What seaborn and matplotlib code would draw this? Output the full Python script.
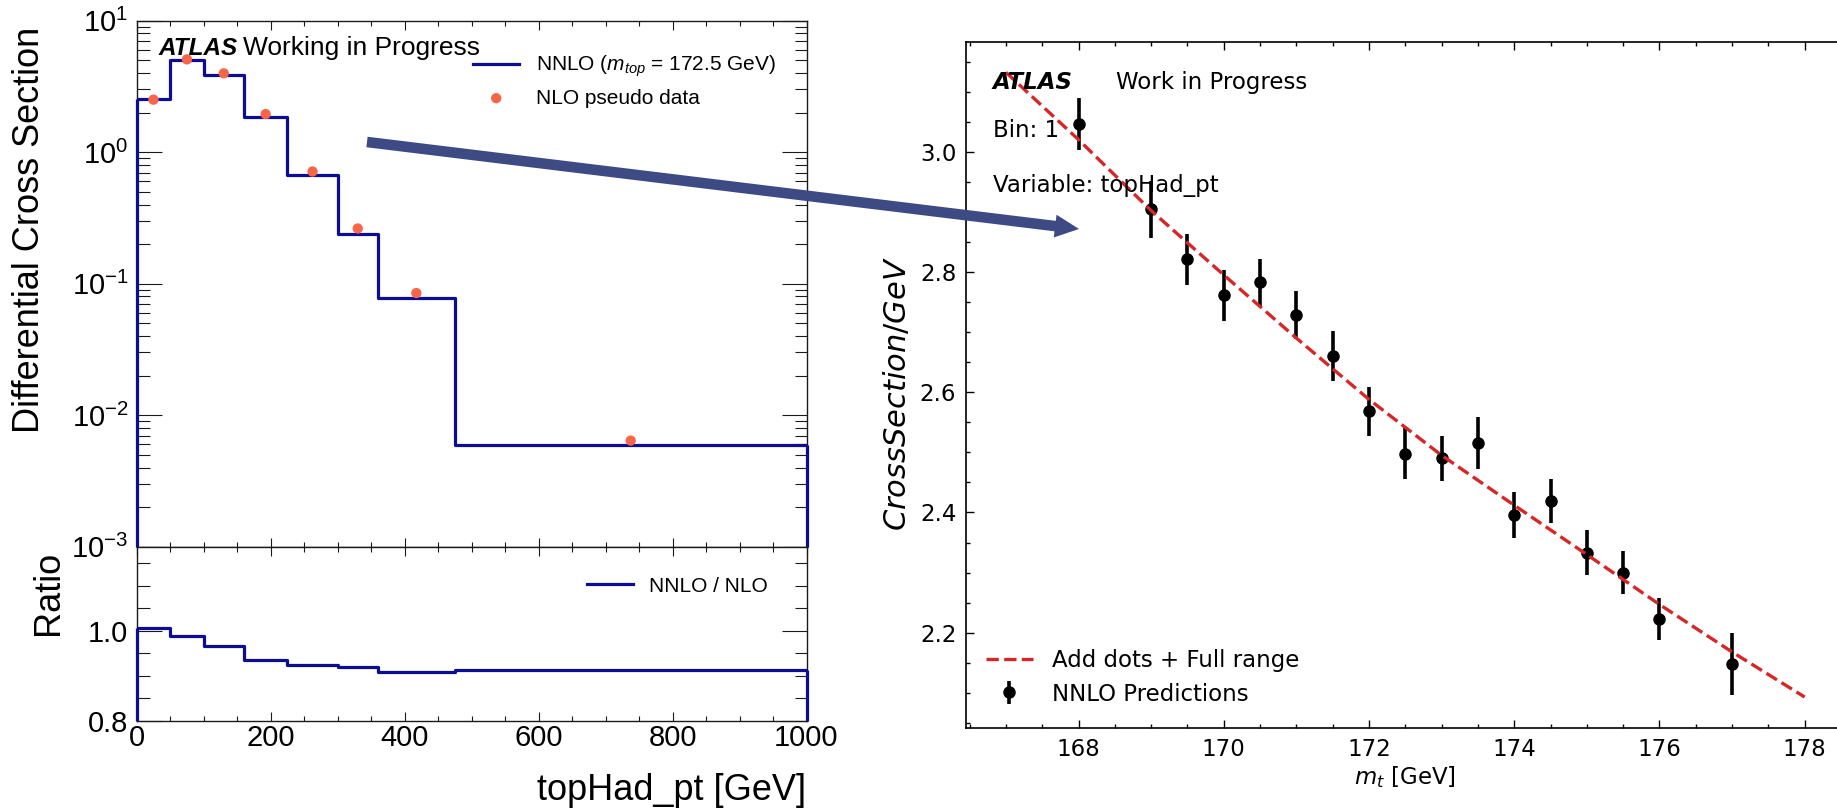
import numpy as np
import matplotlib
matplotlib.use("Agg")
import matplotlib.pyplot as plt
import seaborn as sns
from matplotlib.ticker import MultipleLocator, NullFormatter, LogLocator, FormatStrFormatter
from matplotlib.patches import FancyArrowPatch

# ---------------- data: differential cross section vs topHad_pt ----------------
pt_edges = [0, 50, 100, 160, 225, 300, 360, 475, 1000]
nnlo_xsec = [2.56, 5.03, 3.86, 1.85, 0.676, 0.240, 0.0783, 0.00594]
nlo_pt = [25, 75, 130, 192.5, 262.5, 330, 417.5, 737.5]
nlo_xsec = [2.51, 5.08, 3.98, 1.95, 0.713, 0.263, 0.0849, 0.00641]
ratio_nnlo_nlo = [1.007, 0.989, 0.966, 0.934, 0.925, 0.920, 0.908, 0.912]

# ---------------- data: bin-1 cross section vs top mass ----------------
mt_points = [168, 169, 169.5, 170, 170.5, 171, 171.5, 172, 172.5, 173,
             173.5, 174, 174.5, 175, 175.5, 176, 177]
xsec_points = [3.046, 2.904, 2.821, 2.761, 2.783, 2.728, 2.660, 2.568, 2.498,
               2.490, 2.516, 2.396, 2.419, 2.333, 2.300, 2.223, 2.148]
xsec_errors = [0.043, 0.047, 0.042, 0.043, 0.039, 0.040, 0.041, 0.040, 0.042,
               0.038, 0.043, 0.038, 0.036, 0.037, 0.036, 0.035, 0.051]
fit_mt = [167, 168, 169, 170, 171, 172, 173, 174, 175, 176, 177, 178]
fit_xsec = [3.132, 3.020, 2.902, 2.795, 2.690, 2.588, 2.495, 2.412, 2.330,
            2.247, 2.168, 2.093]

# ---------------- style ----------------
plt.rcParams["font.family"] = ["Liberation Sans", "DejaVu Sans"]
plt.rcParams["mathtext.fontset"] = "custom"
plt.rcParams["mathtext.rm"] = "Liberation Sans"
plt.rcParams["mathtext.it"] = "Liberation Sans:italic"
plt.rcParams["mathtext.bf"] = "Liberation Sans:bold"

NAVY = "#0c0c94"
CORAL = "#f86549"
RED = "#d62728"
ARROW = "#3d4a84"
FRAME = "#1a1a1a"

W, H = 1837, 811
fig = plt.figure(figsize=(W / 100, H / 100), dpi=100)


def box(left, top, right, bottom):
    """Axes rectangle from pixel edges (origin top-left)."""
    return [left / W, 1 - bottom / H, (right - left) / W, (bottom - top) / H]


ax_top = fig.add_axes(box(136.7, 20.7, 806.5, 546.7))
ax_rat = fig.add_axes(box(136.7, 546.7, 806.5, 721.0), sharex=ax_top)
ax_r = fig.add_axes(box(966.0, 41.7, 1844.6, 728.3))

centers = [(a + b) / 2 for a, b in zip(pt_edges[:-1], pt_edges[1:])]

# ---- upper left panel ----
sns.histplot(x=centers, weights=nnlo_xsec, bins=pt_edges, element="step",
             fill=False, color=NAVY, linewidth=2.3, ax=ax_top, zorder=3)
nnlo_line = ax_top.lines[-1]
ax_top.set_yscale("log")
ax_top.set_ylim(1e-3, 10)
ax_top.set_xlim(pt_edges[0], pt_edges[-1])
ax_top.vlines([pt_edges[0], pt_edges[-1]], 1e-3, [nnlo_xsec[0], nnlo_xsec[-1]],
              color=NAVY, linewidth=2.3, zorder=3, clip_on=False)
sns.scatterplot(x=nlo_pt, y=nlo_xsec, color=CORAL, s=55, edgecolor="none",
                ax=ax_top, zorder=4)
nlo_marks = ax_top.collections[-1]

ax_top.yaxis.set_major_locator(LogLocator(base=10, numticks=10))
ax_top.yaxis.set_minor_locator(LogLocator(base=10, subs=np.arange(2, 10), numticks=20))
ax_top.yaxis.set_minor_formatter(NullFormatter())
ax_top.tick_params(which="both", direction="in", top=True, right=True,
                   labelbottom=False, labelsize=21, width=0.8, color=FRAME, pad=6)
ax_top.tick_params(axis="x", which="major", length=6.3)
ax_top.tick_params(axis="x", which="minor", length=3.6)
ax_top.tick_params(axis="y", which="major", length=18)
ax_top.tick_params(axis="y", which="minor", length=9)

ax_top.set_ylabel("Differential Cross Section", fontsize=26)
ax_top.yaxis.set_label_coords(-0.1597, 0.602)
ax_top.yaxis.label.set_verticalalignment("center")
ax_top.set_xlabel("")

ax_top.text(0.0322, 0.9348, "ATLAS", transform=ax_top.transAxes, fontsize=17.5,
            fontweight="bold", fontstyle="italic", va="baseline")
ax_top.text(0.1587, 0.9348, "Working in Progress", transform=ax_top.transAxes,
            fontsize=19, va="baseline")
ax_top.legend(handles=[nnlo_line, nlo_marks],
              labels=[r"NNLO ($m_{top}$ = 172.5 GeV)", "NLO pseudo data"],
              loc="upper left", bbox_to_anchor=(473.3 / W, 1 - 54 / H),
              bbox_transform=fig.transFigure, frameon=False, fontsize=15,
              handlelength=2.2, handletextpad=0.8, labelspacing=0.44,
              borderpad=0, borderaxespad=0)

# ---- ratio panel ----
sns.histplot(x=centers, weights=ratio_nnlo_nlo, bins=pt_edges, element="step",
             fill=False, color=NAVY, linewidth=2.3, ax=ax_rat, zorder=3)
ratio_line = ax_rat.lines[-1]
ax_rat.set_ylim(0.8, 1.186)
ax_rat.set_xlim(pt_edges[0], pt_edges[-1])
ax_rat.vlines([pt_edges[0], pt_edges[-1]], 0.8, [ratio_nnlo_nlo[0], ratio_nnlo_nlo[-1]],
              color=NAVY, linewidth=2.3, zorder=3, clip_on=False)
ax_rat.xaxis.set_major_locator(MultipleLocator(200))
ax_rat.xaxis.set_minor_locator(MultipleLocator(50))
ax_rat.yaxis.set_major_locator(MultipleLocator(0.2))
ax_rat.yaxis.set_minor_locator(MultipleLocator(0.05))
ax_rat.yaxis.set_major_formatter(FormatStrFormatter("%.1f"))
ax_rat.tick_params(which="both", direction="in", top=True, right=True,
                   labelsize=21, width=0.8, color=FRAME)
ax_rat.tick_params(axis="x", which="major", length=6.3, pad=2.5)
ax_rat.tick_params(axis="x", which="minor", length=3.6)
ax_rat.tick_params(axis="y", which="major", length=18, pad=6)
ax_rat.tick_params(axis="y", which="minor", length=9)
ax_rat.set_ylabel("Ratio", fontsize=26)
ax_rat.yaxis.set_label_coords(-0.132, 0.737)
ax_rat.yaxis.label.set_verticalalignment("center")
ax_rat.set_xlabel("topHad_pt [GeV]", fontsize=26)
ax_rat.xaxis.set_label_coords(1.0, -0.453)
ax_rat.xaxis.label.set_horizontalalignment("right")
ax_rat.xaxis.label.set_verticalalignment("baseline")
ax_rat.legend(handles=[ratio_line], labels=["NNLO / NLO"], loc="upper left",
              bbox_to_anchor=(586.7 / W, 1 - 576.6 / H),
              bbox_transform=fig.transFigure, frameon=False, fontsize=15,
              handlelength=2.2, handletextpad=0.8, borderpad=0, borderaxespad=0)

for a in (ax_top, ax_rat):
    for sp in a.spines.values():
        sp.set_linewidth(1.0)
        sp.set_color(FRAME)

# ---- right panel: cross section vs m_t ----
RFONT = "DejaVu Sans"
RSIZE = 16.5
eb = ax_r.errorbar(mt_points, xsec_points, yerr=xsec_errors, fmt="o", color="black",
                   markersize=8, elinewidth=2.6, capsize=0, zorder=2)
sns.lineplot(x=fit_mt, y=fit_xsec, color=RED, linestyle="--", linewidth=2.4,
             errorbar=None, ax=ax_r, zorder=3)
fit_line = ax_r.lines[-1]
ax_r.set_xlim(166.45, 178.55)
ax_r.set_ylim(2.041, 3.183)
ax_r.xaxis.set_major_locator(MultipleLocator(2))
ax_r.xaxis.set_minor_locator(MultipleLocator(0.5))
ax_r.yaxis.set_major_locator(MultipleLocator(0.2))
ax_r.yaxis.set_minor_locator(MultipleLocator(0.05))
ax_r.yaxis.set_major_formatter(FormatStrFormatter("%.1f"))
ax_r.tick_params(which="both", direction="in", top=True, right=True,
                 labelsize=RSIZE, labelfontfamily=RFONT, width=1.0, pad=7)
ax_r.tick_params(which="major", length=6)
ax_r.tick_params(which="minor", length=3.1)
for sp in ax_r.spines.values():
    sp.set_linewidth(1.2)

ax_r.set_ylabel(r"$CrossSection/GeV$", fontsize=22, family=RFONT,
                math_fontfamily="dejavusans")
ax_r.yaxis.set_label_coords(-0.0791, 0.487)
ax_r.yaxis.label.set_verticalalignment("center")
ax_r.set_xlabel(r"$m_t$ [GeV]", fontsize=RSIZE, family=RFONT,
                math_fontfamily="dejavusans")
ax_r.xaxis.set_label_coords(0.5, -0.0811)
ax_r.xaxis.label.set_verticalalignment("baseline")

ax_r.text(0.0304, 0.931, "ATLAS", transform=ax_r.transAxes, fontsize=RSIZE,
          family=RFONT, fontweight="bold", fontstyle="italic", va="baseline")
ax_r.text(0.1707, 0.931, "Work in Progress", transform=ax_r.transAxes,
          fontsize=RSIZE, family=RFONT, va="baseline")
ax_r.text(0.0304, 0.8608, "Bin: 1", transform=ax_r.transAxes, fontsize=RSIZE,
          family=RFONT, va="baseline")
ax_r.text(0.0304, 0.781, "Variable: topHad_pt", transform=ax_r.transAxes,
          fontsize=RSIZE, family=RFONT, va="baseline")

ax_r.legend(handles=[fit_line, eb], labels=["Add dots + Full range", "NNLO Predictions"],
            loc="upper left", bbox_to_anchor=(986 / W, 1 - 649.2 / H),
            bbox_transform=fig.transFigure, frameon=False,
            prop={"family": RFONT, "size": RSIZE}, handlelength=2.04,
            handletextpad=0.83, labelspacing=0.45, borderpad=0, borderaxespad=0)

# ---- connecting arrow ----
arrow = FancyArrowPatch(posA=(367 / W, 1 - 142 / H), posB=(1079 / W, 1 - 229 / H),
                        transform=fig.transFigure,
                        arrowstyle="simple,head_length=1.73,head_width=1.65,tail_width=0.76",
                        mutation_scale=10, color=ARROW, linewidth=0,
                        shrinkA=0, shrinkB=0, zorder=10)
fig.add_artist(arrow)

fig.savefig("out.png", dpi=100)
